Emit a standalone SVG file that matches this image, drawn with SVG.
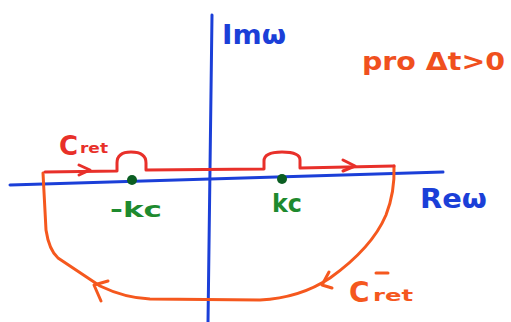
<svg xmlns="http://www.w3.org/2000/svg" width="511" height="322" viewBox="0 0 511 322">
<style>
.ln{fill:none;stroke-width:3;stroke-linecap:round;stroke-linejoin:round}
.blue{stroke:#1b3fd8}
.red{stroke:#e8302a}
.orange{stroke:#f5581e}
.t{font-family:"DejaVu Sans",sans-serif;font-weight:bold}
</style>
<rect width="511" height="322" fill="#fff"/>
<g id="axes">
<path class="ln blue" d="M212,15 L208,322"/>
<path class="ln blue" d="M10,185 L443,172"/>
</g>
<g id="contour-lower">
<path class="ln orange" d="M43,173 L46,230 Q49,250 58,258 L100,286 Q125,298 150,299 L260,300 Q300,298 330,278 Q372,248 386,215 Q395,192 394,166"/>
<path class="ln orange" d="M108,281 L94,285 L101,301"/>
<path class="ln orange" d="M329,272 L322,285 L332,288"/>
</g>
<g id="contour-upper">
<path class="ln red" d="M45,172 L117,171 L117,163 Q117,152 131,152 Q146,152 146,163 L146,170 L264,169 L264,161 Q264,152 282,152 Q300,152 300,160 L300,168 L394,166"/>
<path class="ln red" d="M79,165 L90,170 L79,175"/>
<path class="ln red" d="M343,160 L355,166 L343,171"/>
</g>
<g id="poles">
<circle cx="132" cy="180" r="5" fill="#0b5e22"/>
<circle cx="282" cy="179" r="5" fill="#0b5e22"/>
</g>
<g id="labels">
<text class="t" x="222" y="44" font-size="26" fill="#1b3fd8" textLength="64" lengthAdjust="spacingAndGlyphs">Imω</text>
<text class="t" x="420" y="208" font-size="26" fill="#1b3fd8" textLength="67" lengthAdjust="spacingAndGlyphs">Reω</text>
<text class="t" x="362" y="70" font-size="24" fill="#f0501e" textLength="143" lengthAdjust="spacingAndGlyphs">pro Δt&gt;0</text>
<text class="t" x="110" y="217" font-size="22" fill="#1e8a2e" textLength="52" lengthAdjust="spacingAndGlyphs">-kc</text>
<text class="t" x="272" y="212" font-size="24" fill="#1e8a2e" textLength="30" lengthAdjust="spacingAndGlyphs">kc</text>
<text class="t" x="59" y="155" font-size="26" fill="#e8302a">C</text>
<text class="t" x="80" y="153" font-size="14" fill="#e8302a" textLength="28" lengthAdjust="spacingAndGlyphs">ret</text>
<text class="t" x="349" y="302" font-size="28" fill="#f5581e">C</text>
<text class="t" x="373" y="301" font-size="15" fill="#f5581e" textLength="40" lengthAdjust="spacingAndGlyphs">ret</text>
<path class="ln orange" d="M376,273 L388,273"/>
</g>
</svg>
